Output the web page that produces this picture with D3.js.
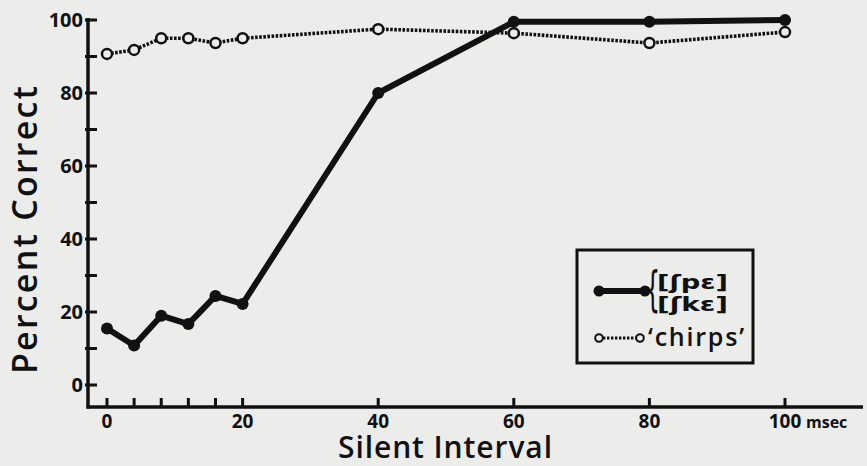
<!DOCTYPE html>
<html>
<head>
<meta charset="utf-8">
<script src="https://cdn.jsdelivr.net/npm/d3@7"></script>
<style>
    html, body { margin: 0; padding: 0; background: #ececeb; }
    svg { display: block; }
    text { fill: #111; }
</style>
</head>
<body>
<div class="holder"></div>
<script>
// silent interval (msec) and percent correct
const intervals = [0, 4, 8, 12, 16, 20, 40, 60, 80, 100];
const speechValues = [15.5, 10.8, 19, 16.7, 24.4, 22.2, 80, 99.5, 99.5, 100];
const chirpValues = [90.7, 91.8, 95, 95, 93.7, 95, 97.5, 96.4, 93.7, 96.7];

const xMajorTicks = [0, 20, 40, 60, 80, 100];
const xMinorTicks = [4, 8, 12, 16];
const yMajorTicks = [0, 20, 40, 60, 80, 100];
const yMinorTicks = [10, 30, 50, 70, 90];

const legendLabels = ["[\u0283p\u025B]", "[\u0283k\u025B]", "\u2018chirps\u2019"];

const fullWidth = 867;
const fullHeight = 466;
const ink = "#111";
const paper = "#ececeb";
const font = "'Open Sans', 'DejaVu Sans', sans-serif";

const xScale = d3.scaleLinear().domain([0, 100]).range([107, 785]);
const yScale = d3.scaleLinear().domain([0, 100]).range([385, 20]);

const svg = d3.select(".holder")
    .append("svg")
    .attr("width", fullWidth)
    .attr("height", fullHeight);

// axes lines
const axisX = 88;
const axisY = 407;
svg.append("line")
    .attr("x1", axisX).attr("x2", axisX)
    .attr("y1", 18).attr("y2", axisY + 1.5)
    .attr("stroke", ink).attr("stroke-width", 3.5);
svg.append("line")
    .attr("x1", axisX - 1.5).attr("x2", 863)
    .attr("y1", axisY).attr("y2", axisY)
    .attr("stroke", ink).attr("stroke-width", 3.5);

// y ticks
svg.selectAll(".ytick")
    .data(yMajorTicks.concat(yMinorTicks))
    .enter()
    .append("line")
    .attr("class", "ytick")
    .attr("x1", axisX - 3).attr("x2", axisX + 9)
    .attr("y1", d => yScale(d)).attr("y2", d => yScale(d))
    .attr("stroke", ink).attr("stroke-width", 3);
svg.selectAll(".ylabel")
    .data(yMajorTicks)
    .enter()
    .append("text")
    .attr("class", "ylabel")
    .attr("x", 83)
    .attr("y", d => yScale(d) + 7)
    .attr("text-anchor", "end")
    .style("font-family", font)
    .style("font-weight", 700)
    .style("font-size", "20px")
    .text(d => d);

// x ticks
svg.selectAll(".xtick")
    .data(xMajorTicks.concat(xMinorTicks))
    .enter()
    .append("line")
    .attr("class", "xtick")
    .attr("x1", d => xScale(d)).attr("x2", d => xScale(d))
    .attr("y1", axisY).attr("y2", axisY - 9)
    .attr("stroke", ink).attr("stroke-width", 3);
svg.selectAll(".xlabel")
    .data(xMajorTicks)
    .enter()
    .append("text")
    .attr("class", "xlabel")
    .attr("x", d => xScale(d))
    .attr("y", 428)
    .attr("text-anchor", "middle")
    .style("font-family", font)
    .style("font-weight", 700)
    .style("font-size", "19px")
    .text(d => d);
svg.append("text")
    .attr("x", xScale(100) + 21)
    .attr("y", 428)
    .style("font-family", font)
    .style("font-weight", 700)
    .style("font-size", "16px")
    .text("msec");

// axis titles
svg.append("text")
    .attr("transform", "translate(37,230) rotate(-90)")
    .attr("text-anchor", "middle")
    .attr("textLength", 288)
    .attr("lengthAdjust", "spacing")
    .style("font-family", font)
    .style("font-weight", 600)
    .style("font-size", "34px")
    .text("Percent Correct");
svg.append("text")
    .attr("x", 445)
    .attr("y", 458)
    .attr("text-anchor", "middle")
    .attr("textLength", 214)
    .attr("lengthAdjust", "spacing")
    .style("font-family", font)
    .style("font-weight", 600)
    .style("font-size", "30px")
    .text("Silent Interval");

// chirps series: dotted line with open circles
const chirpLine = d3.line()
    .x((d, i) => xScale(intervals[i]))
    .y(d => yScale(d));
svg.append("path")
    .datum(chirpValues)
    .attr("d", chirpLine)
    .attr("fill", "none")
    .attr("stroke", ink)
    .attr("stroke-width", 3.6)
    .attr("stroke-dasharray", "2.6 1.5");
svg.selectAll(".chirp")
    .data(chirpValues)
    .enter()
    .append("circle")
    .attr("class", "chirp")
    .attr("cx", (d, i) => xScale(intervals[i]))
    .attr("cy", d => yScale(d))
    .attr("r", 5)
    .attr("fill", paper)
    .attr("stroke", ink)
    .attr("stroke-width", 2.5);

// speech series: heavy solid line with filled dots
const speechLine = d3.line()
    .x((d, i) => xScale(intervals[i]))
    .y(d => yScale(d));
svg.append("path")
    .datum(speechValues)
    .attr("d", speechLine)
    .attr("fill", "none")
    .attr("stroke", ink)
    .attr("stroke-width", 6)
    .attr("stroke-linejoin", "round");
svg.selectAll(".speech")
    .data(speechValues)
    .enter()
    .append("circle")
    .attr("class", "speech")
    .attr("cx", (d, i) => xScale(intervals[i]))
    .attr("cy", d => yScale(d))
    .attr("r", 6)
    .attr("fill", ink);

// legend
const legend = svg.append("g").attr("id", "legend");
legend.append("rect")
    .attr("x", 577).attr("y", 250)
    .attr("width", 176).attr("height", 113)
    .attr("fill", "none")
    .attr("stroke", ink)
    .attr("stroke-width", 3);
legend.append("line")
    .attr("x1", 599).attr("x2", 645)
    .attr("y1", 291).attr("y2", 291)
    .attr("stroke", ink).attr("stroke-width", 6);
legend.selectAll(".ldot")
    .data([599, 645])
    .enter()
    .append("circle")
    .attr("cx", d => d).attr("cy", 291)
    .attr("r", 5.5)
    .attr("fill", ink);
legend.append("text")
    .attr("x", 0).attr("y", 0)
    .attr("transform", "translate(645,306) scale(0.5,1)")
    .style("font-family", "'DejaVu Sans', sans-serif")
    .style("font-size", "48px")
    .text("{");
legend.append("text")
    .attr("x", 657).attr("y", 289)
    .attr("textLength", 71)
    .attr("lengthAdjust", "spacingAndGlyphs")
    .style("font-family", "'DejaVu Sans', sans-serif")
    .style("font-weight", 700)
    .style("font-size", "19px")
    .text(legendLabels[0]);
legend.append("text")
    .attr("x", 657).attr("y", 311)
    .attr("textLength", 71)
    .attr("lengthAdjust", "spacingAndGlyphs")
    .style("font-family", "'DejaVu Sans', sans-serif")
    .style("font-weight", 700)
    .style("font-size", "19px")
    .text(legendLabels[1]);
legend.append("line")
    .attr("x1", 599).attr("x2", 640)
    .attr("y1", 338).attr("y2", 338)
    .attr("stroke", ink).attr("stroke-width", 3)
    .attr("stroke-dasharray", "2.4 1.6");
legend.selectAll(".lring")
    .data([599, 640])
    .enter()
    .append("circle")
    .attr("cx", d => d).attr("cy", 338)
    .attr("r", 3.8)
    .attr("fill", paper)
    .attr("stroke", ink)
    .attr("stroke-width", 2);
legend.append("text")
    .attr("x", 648).attr("y", 346)
    .attr("textLength", 96)
    .attr("lengthAdjust", "spacing")
    .style("font-family", font)
    .style("font-weight", 600)
    .style("font-size", "25px")
    .text(legendLabels[2]);
</script>
</body>
</html>
